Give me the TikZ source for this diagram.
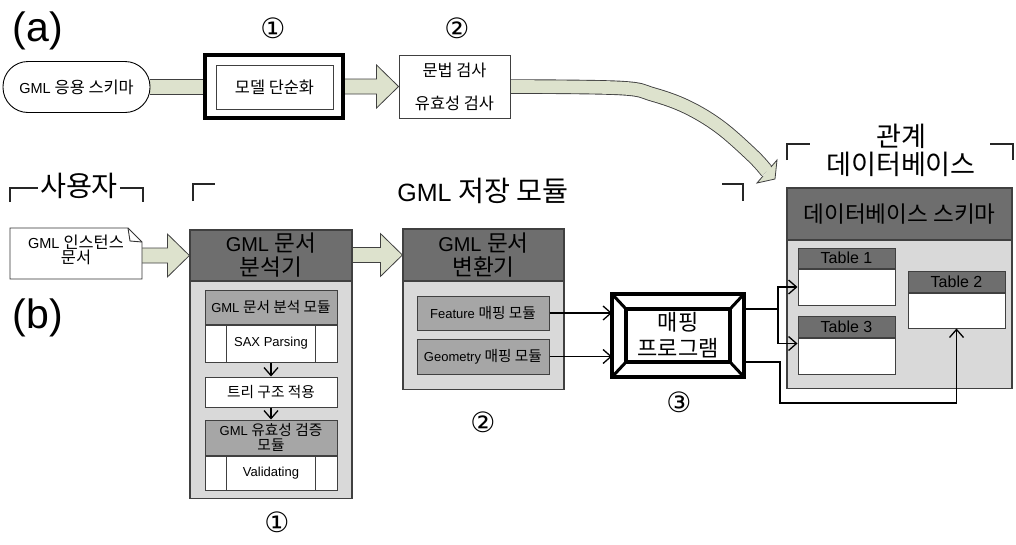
\documentclass[tikz,border=0pt]{standalone}
\usepackage{fontspec}
\setmainfont{Liberation Sans}
\newfontfamily\kr[Scale=1.13]{Noto Sans CJK KR}
\newfontfamily\symfont{DejaVu Sans}
\usetikzlibrary{arrows.meta,calc,backgrounds}

\newcommand\fs[2]{\fontsize{#1}{#2}\selectfont}
\newcommand\K[1]{{\kr #1}}

\definecolor{arrowfill}{RGB}{221,226,205}
\definecolor{edgegray}{RGB}{64,64,64}
\definecolor{headgray}{RGB}{110,110,110}
\definecolor{panelgray}{RGB}{217,217,217}
\definecolor{modgray}{RGB}{166,166,166}

% block arrow (shaft + head) from the east side of #1 to the west side of #2
\newcommand\fatarrow[2]{%
  \fill[arrowfill] let \p1=(#1.east), \p2=(#2.west) in
    (\x1,\y2+7.5pt) -- (\x2-22pt,\y2+7.5pt) -- (\x2-22pt,\y2+21.5pt) -- (\x2,\y2)
    -- (\x2-22pt,\y2-21.5pt) -- (\x2-22pt,\y2-7.5pt) -- (\x1,\y2-7.5pt) -- cycle;
  \draw[fatedge] let \p1=(#1.east), \p2=(#2.west) in
    (\x1,\y2+7.5pt) -- (\x2-22pt,\y2+7.5pt) -- (\x2-22pt,\y2+21.5pt) -- (\x2,\y2)
    -- (\x2-22pt,\y2-21.5pt) -- (\x2-22pt,\y2-7.5pt) -- (\x1,\y2-7.5pt);}

\begin{document}
\begin{tikzpicture}[x=1pt,y=-1pt,
  fatedge/.style={draw=edgegray, line width=0.8pt, line join=miter},
  edge/.style={draw=edgegray, line width=1pt},
  panelhead/.style={draw=edgegray, line width=1.2pt, fill=headgray, inner sep=0pt, align=center, font=\fs{20}{24}},
  panelbody/.style={draw=edgegray, line width=1.2pt, fill=panelgray, inner sep=0pt},
  modbox/.style={draw=edgegray, line width=1pt, fill=modgray, inner sep=0pt, align=center, font=\fs{13}{15}},
  whitebox/.style={draw=edgegray, line width=1pt, fill=white, inner sep=0pt, align=center, font=\fs{13}{15}},
  tabhead/.style={draw=edgegray, line width=1pt, fill=headgray, inner sep=0pt, font=\fs{16}{16}},
  tabbody/.style={draw=edgegray, line width=1pt, fill=white, inner sep=0pt},
  link/.style={draw=black, line width=1.3pt, -{Straight Barb[length=8pt,width=14pt]}},
  numlabel/.style={font=\symfont\fs{28}{28}, inner sep=0pt},
  bracket/.style={draw=black!85, line width=1.7pt},
  heading/.style={font=\fs{25}{28}, inner sep=0pt, align=center},
  biglabel/.style={font=\fs{41}{41}, inner sep=0pt}]
\useasboundingbox (0,0) rectangle (1016,544);

% ---------------- (a) schema processing ----------------
\node[biglabel] (lbla) at (38,31) {(a)};
\node[numlabel] (n1a) at (273,28) {①};
\node[numlabel] (n2a) at (457,28) {②};

\node[draw=black, line width=0.9pt, rounded corners=25pt, minimum width=147pt,
      minimum height=51pt, inner sep=0pt, font=\fs{14.5}{15}] (schema) at (76.5,87) {GML \K{응용 스키마}};
\node[draw=black, line width=4pt, outer sep=0pt, minimum width=138pt, minimum height=63pt,
      inner sep=0pt] (simp) at (274,86.5) {};
\node[draw=edgegray, line width=0.9pt, minimum width=117pt, minimum height=44pt,
      inner sep=0pt, font=\kr\fs{14.5}{15}] (simpin) at (274.5,87) {모델 단순화};
\node[draw=edgegray, line width=0.9pt, minimum width=111pt, minimum height=63pt,
      inner sep=0pt, align=center, font=\kr\fs{14.5}{33}] (check) at (454.5,86.5) {문법 검사\\유효성 검사};

\coordinate (dbin) at (767,171.5);

% ---------------- (b) storage pipeline ----------------
\node[biglabel] (lblb) at (38,318) {(b)};
\node[heading] (user) at (79,186) {\K{사용자}};
\node[heading] (store) at (483,191) {GML \K{저장 모듈}};
\node[heading, font=\kr\fs{24}{28}] (rdb) at (901,150) {관계\\데이터베이스};

% brackets around the headings
\draw[bracket] (10,202) -- (10,188) -- (38,188);
\draw[bracket] (120,188) -- (143,188) -- (143,202);
\draw[bracket] (193,201) -- (193,184) -- (215,184);
\draw[bracket] (722,184) -- (743,184) -- (743,201);
\draw[bracket] (787,160) -- (787,144) -- (810,144);
\draw[bracket] (990,144) -- (1013,144) -- (1013,160);

% instance document
\node[minimum width=132pt, minimum height=51pt, inner sep=0pt, outer sep=0pt] (doc) at (76,253.5) {};
\draw[draw=black!80, line width=0.9pt, fill=white]
  (doc.north west) -- ([xshift=-14pt]doc.north east) -- ([yshift=-14pt]doc.north east)
  -- (doc.south east) -- (doc.south west) -- cycle;
\draw[draw=black!80, line width=0.9pt]
  ([xshift=-14pt]doc.north east) -- ([xshift=-12pt,yshift=-13pt]doc.north east) -- ([yshift=-14pt]doc.north east);
\node[align=center, font=\fs{14.5}{15}, inner sep=0pt] (doctext) at ([yshift=3.5pt]doc.center) {GML \K{인스턴스}\\\K{문서}};

% document parser
\node[panelbody, minimum width=162pt, minimum height=217pt, anchor=north] (parsebody) at (271,281) {};
\node[panelhead, minimum width=162pt, minimum height=51pt] (parsehead) at (271,255.5) {GML \K{문서}\\\K{분석기}};

\node[modbox, minimum width=132pt, minimum height=34pt] (parsemod) at (271,307) {GML \K{문서 분석 모듈}};
\node[whitebox, minimum width=132pt, minimum height=37pt, anchor=north] (sax) at (parsemod.south) {SAX Parsing};
\draw[edge] ([xshift=22pt]sax.north west) -- ([xshift=22pt]sax.south west);
\draw[edge] ([xshift=-22pt]sax.north east) -- ([xshift=-22pt]sax.south east);
\node[whitebox, font=\kr\fs{13}{15}, minimum width=132pt, minimum height=30pt] (tree) at (271,392) {트리 구조 적용};
\node[modbox, minimum width=132pt, minimum height=35pt] (valmod) at (271,437.5) {GML \K{유효성 검증}\\\K{모듈}};
\node[whitebox, minimum width=132pt, minimum height=34pt, anchor=north] (valrow) at (valmod.south) {Validating};
\draw[edge] ([xshift=22pt]valrow.north west) -- ([xshift=22pt]valrow.south west);
\draw[edge] ([xshift=-22pt]valrow.north east) -- ([xshift=-22pt]valrow.south east);
\draw[link] (sax.south) -- (tree.north);
\draw[link] (tree.south) -- (valmod.north);
\node[numlabel] (n1b) at (277,522) {①};

% document converter
\node[panelbody, minimum width=161pt, minimum height=108pt, anchor=north] (convbody) at (483.5,281) {};
\node[panelhead, minimum width=161pt, minimum height=52pt] (convhead) at (483.5,255) {GML \K{문서}\\\K{변환기}};
\node[modbox, minimum width=132pt, minimum height=34pt] (featmod) at (483,313) {Feature \K{매핑 모듈}};
\node[modbox, minimum width=132pt, minimum height=35pt] (geommod) at (483,356.5) {Geometry \K{매핑 모듈}};
\node[numlabel] (n2b) at (483,422) {②};

% mapping program
\node[draw=black, line width=4pt, outer sep=0pt, fill=white, minimum width=132pt,
      minimum height=83pt, inner sep=0pt] (map) at (678,335.5) {};
\node[draw=black, line width=4pt, outer sep=0pt, minimum width=104pt, minimum height=53pt,
      inner sep=0pt, align=center, font=\kr\fs{19.5}{26}] (mapin) at (678,335.5) {매핑\\프로그램};
\foreach \c in {north west, north east, south west, south east}
  \draw[line width=3pt] (map.\c) -- (mapin.\c);
\node[numlabel] (n3b) at (679,402) {③};

% relational database
\node[panelbody, minimum width=225pt, minimum height=148pt, anchor=north] (dbbody) at (899.5,240) {};
\node[panelhead, minimum width=225pt, minimum height=52pt] (dbhead) at (899.5,214) {\K{데이터베이스 스키마}};
\node[tabhead, minimum width=97pt, minimum height=20pt] (t1h) at (846.5,258) {Table 1};
\node[tabbody, minimum width=97pt, minimum height=36pt, anchor=north] (t1b) at (t1h.south) {};
\node[tabhead, minimum width=97pt, minimum height=21pt] (t3h) at (846.5,326.5) {Table 3};
\node[tabbody, minimum width=97pt, minimum height=36pt, anchor=north] (t3b) at (t3h.south) {};
\node[tabhead, minimum width=97pt, minimum height=21pt] (t2h) at (956.5,281.5) {Table 2};
\node[tabbody, minimum width=97pt, minimum height=35pt, anchor=north] (t2b) at (t2h.south) {};

% thin connectors
\draw[link] (featmod.east) -- (featmod.east -| map.west);
\draw[link] (geommod.east) -- (geommod.east -| map.west);
\draw[link] (mapin.north -| map.east) -- ++(34,0) |- (t1b.west);
\draw[link] (mapin.north -| map.east) -- ++(34,0) |- ([yshift=-6pt]t3b.north west);
\draw[link] (mapin.south -| map.east) -- ++(36,0) -- ++(0,41) -| (t2b.south);

% block arrows, behind the boxes
\begin{pgfonlayer}{background}
  \fill[arrowfill] let \p1=(schema.east), \p2=(simp.west) in
    (\x1,\y2+7.5pt) rectangle (\x2,\y2-7.5pt);
  \draw[fatedge] let \p1=(schema.east), \p2=(simp.west) in
    (\x1,\y2+7.5pt) -- (\x2,\y2+7.5pt) (\x1,\y2-7.5pt) -- (\x2,\y2-7.5pt);
  \fatarrow{simp}{check}
  \fatarrow{doc}{parsehead}
  \fatarrow{parsehead}{convhead}
  % curved arrow into the database
  \draw[edgegray, line width=14.5pt] plot[smooth, tension=0.6] coordinates
    {(check.east) (620,88) (653,94.5) (687,107) (720,127) (753,156) (dbin)};
  \draw[arrowfill, line width=12.7pt] plot[smooth, tension=0.6] coordinates
    {(check.east) (620,88) (653,94.5) (687,107) (720,127) (753,156) (dbin)};
\end{pgfonlayer}
\fill[arrowfill] ([shift={(4,-4.5)}]dbin) -- ([shift={(10,-11.5)}]dbin) -- ([shift={(8,7.5)}]dbin)
  -- ([shift={(-10,11.5)}]dbin) -- ([shift={(-4,4.5)}]dbin) -- cycle;
\draw[fatedge] ([shift={(4,-4.5)}]dbin) -- ([shift={(10,-11.5)}]dbin) -- ([shift={(8,7.5)}]dbin)
  -- ([shift={(-10,11.5)}]dbin) -- ([shift={(-4,4.5)}]dbin);
\end{tikzpicture}
\end{document}
